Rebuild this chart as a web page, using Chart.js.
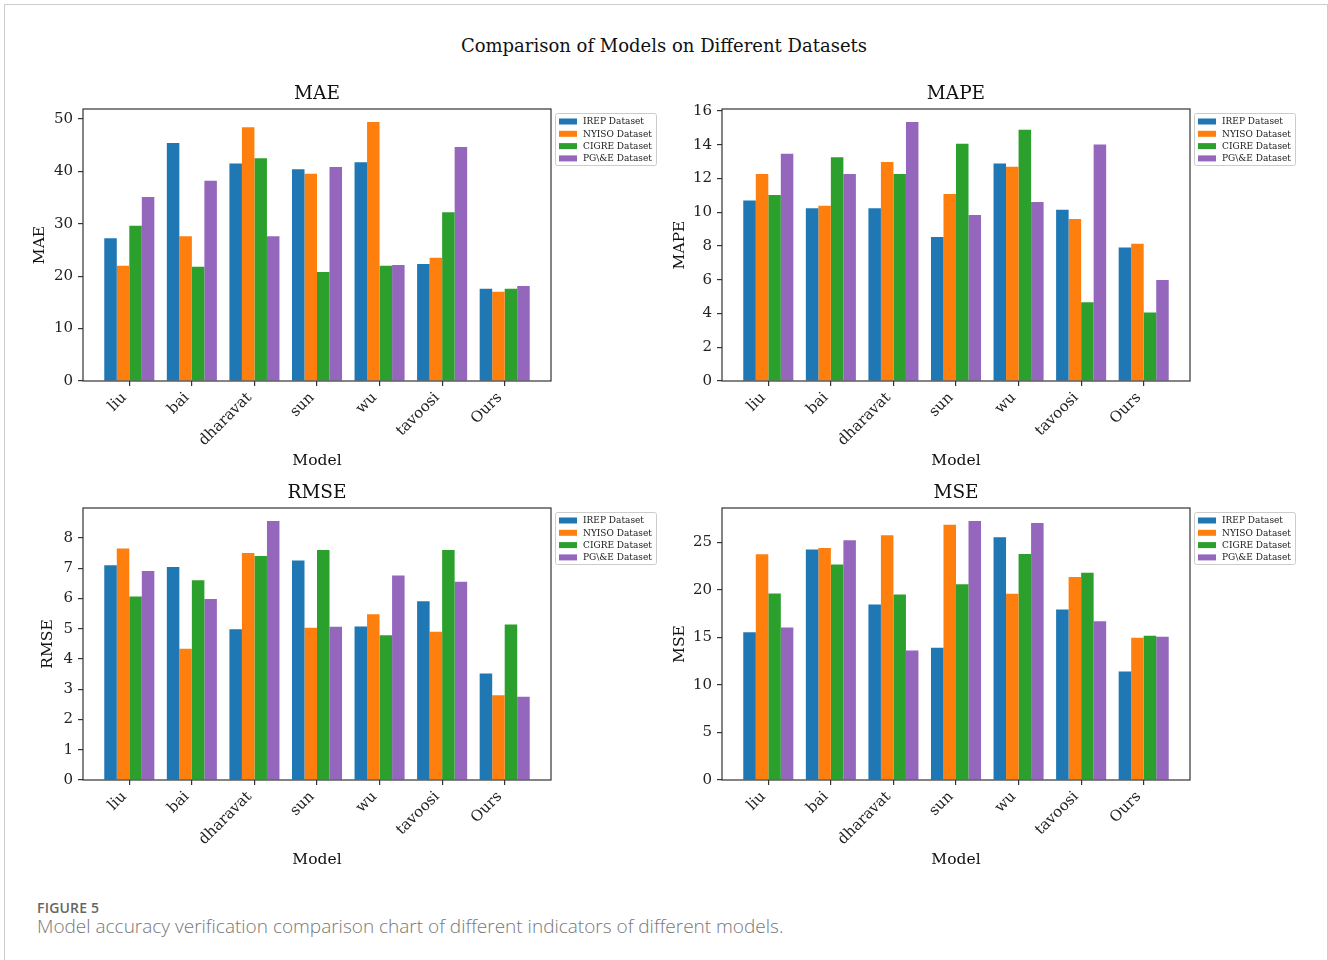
<!DOCTYPE html>
<html><head><meta charset="utf-8">
<script src="https://cdn.jsdelivr.net/npm/chart.js@4.4.1/dist/chart.umd.min.js"></script>
<style>
body{margin:0;background:#fff;width:1328px;height:960px;overflow:hidden;position:relative;}
#frame{position:absolute;left:4px;top:4px;width:1324px;height:980px;border:1px solid #cdcdcd;box-sizing:border-box;}
#sup{position:absolute;left:0;width:1328px;top:35px;text-align:center;font:18px 'DejaVu Serif';color:#111;}
canvas{position:absolute;}
#fig{position:absolute;left:37px;top:898px;font:600 14px 'Open Sans';color:#666;letter-spacing:0.2px;}
#cap{position:absolute;left:37px;top:913px;font:300 19px 'Open Sans';color:#777;}
</style></head>
<body>
<div id="frame"></div>
<div id="sup">Comparison of Models on Different Datasets</div>
<canvas id="c1" width="664" height="400" style="left:0;top:80px"></canvas>
<canvas id="c2" width="664" height="400" style="left:639px;top:80px"></canvas>
<canvas id="c3" width="664" height="400" style="left:0;top:479px"></canvas>
<canvas id="c4" width="664" height="400" style="left:639px;top:479px"></canvas>
<div id="fig">FIGURE 5</div>
<div id="cap">Model accuracy verification comparison chart of different indicators of different models.</div>
<script>
const models = ['liu','bai','dharavat','sun','wu','tavoosi','Ours'];
const datasetNames = ['IREP Dataset','NYISO Dataset','CIGRE Dataset','PG\\&E Dataset'];
const colors = ['#1f77b4','#ff7f0e','#2ca02c','#9467bd'];

const maeIREP  = [27.2, 45.4, 41.5, 40.4, 41.7, 22.3, 17.6];
const maeNYISO = [22.0, 27.6, 48.4, 39.5, 49.4, 23.5, 17.0];
const maeCIGRE = [29.6, 21.8, 42.5, 20.8, 22.0, 32.2, 17.6];
const maePGE   = [35.1, 38.2, 27.6, 40.8, 22.1, 44.6, 18.1];

const mapeIREP  = [10.7, 10.23, 10.23, 8.53, 12.89, 10.15, 7.91];
const mapeNYISO = [12.27, 10.39, 12.97, 11.08, 12.69, 9.6, 8.13];
const mapeCIGRE = [11.02, 13.26, 12.27, 14.06, 14.89, 4.66, 4.06];
const mapePGE   = [13.46, 12.27, 15.35, 9.83, 10.61, 14.02, 5.99];

const rmseIREP  = [7.1, 7.04, 4.98, 7.25, 5.07, 5.91, 3.52];
const rmseNYISO = [7.65, 4.34, 7.5, 5.03, 5.48, 4.9, 2.8];
const rmseCIGRE = [6.06, 6.6, 7.4, 7.6, 4.78, 7.6, 5.14];
const rmsePGE   = [6.91, 5.98, 8.56, 5.06, 6.76, 6.55, 2.75];

const mseIREP  = [15.55, 24.26, 18.47, 13.9, 25.53, 17.94, 11.41];
const mseNYISO = [23.74, 24.4, 25.74, 26.86, 19.59, 21.35, 14.96];
const mseCIGRE = [19.63, 22.68, 19.52, 20.58, 23.77, 21.8, 15.17];
const msePGE   = [16.05, 25.21, 13.62, 27.25, 27.04, 16.71, 15.06];

const maeTicks  = [0, 10, 20, 30, 40, 50];
const mapeTicks = [0, 2, 4, 6, 8, 10, 12, 14, 16];
const rmseTicks = [0, 1, 2, 3, 4, 5, 6, 7, 8];
const mseTicks  = [0, 5, 10, 15, 20, 25];

const SERIF = "'DejaVu Serif', serif";

const framePlugin = {
  id: 'frame',
  afterDatasetsDraw(chart) {
    const a = chart.chartArea, ctx = chart.ctx;
    ctx.save();
    ctx.strokeStyle = '#333';
    ctx.lineWidth = 1.2;
    ctx.strokeRect(a.left, a.top, a.right - a.left, a.bottom - a.top);
    ctx.restore();
  }
};

const axTitlePlugin = {
  id: 'axTitle',
  afterDraw(chart, args, opts) {
    const a = chart.chartArea, ctx = chart.ctx;
    ctx.save();
    ctx.font = "18.5px " + SERIF;
    ctx.fillStyle = '#111';
    ctx.textAlign = 'center';
    ctx.textBaseline = 'middle';
    ctx.fillText(opts.text, (a.left + a.right) / 2, a.top - 14.5);
    ctx.restore();
  }
};

const legendPlugin = {
  id: 'sideLegend',
  afterDraw(chart) {
    const a = chart.chartArea, ctx = chart.ctx;
    const x0 = a.right + 4, y0 = a.top + 4, w = 101, h = 52;
    ctx.save();
    ctx.fillStyle = 'rgba(255,255,255,0.8)';
    ctx.strokeStyle = '#cccccc';
    ctx.lineWidth = 1;
    ctx.beginPath();
    ctx.roundRect(x0 + 0.5, y0 + 0.5, w, h, 2);
    ctx.fill(); ctx.stroke();
    ctx.font = "9px " + SERIF;
    ctx.textBaseline = 'middle';
    ctx.textAlign = 'left';
    chart.data.datasets.forEach((ds, i) => {
      const cy = y0 + 8.5 + i * 12.3;
      ctx.fillStyle = ds.backgroundColor;
      ctx.fillRect(x0 + 4, cy - 3, 18, 6);
      ctx.fillStyle = '#1a1a1a';
      ctx.fillText(ds.label, x0 + 28, cy + 0.5);
    });
    ctx.restore();
  }
};

function makeChart(id, title, yLabel, series, yTicks, yTitlePad) {
  let all = [];
  series.forEach(s => all = all.concat(s));
  const yMax = Math.max(...all) * 1.05;
  const datasets = series.map((vals, k) => ({
    label: datasetNames[k],
    data: vals.map((v, i) => ({ x: i, y: v })),
    backgroundColor: colors[k],
    borderWidth: 0,
    categoryPercentage: 0.8,
    barPercentage: 1.0
  }));
  new Chart(document.getElementById(id), {
    type: 'bar',
    data: { datasets },
    options: {
      responsive: false,
      animation: false,
      events: [],
      layout: { padding: { left: 0, right: 113, top: 29, bottom: 4 } },
      plugins: {
        legend: { display: false },
        tooltip: { enabled: false },
        title: { display: false },
        axTitle: { text: title }
      },
      scales: {
        x: {
          type: 'linear',
          min: -0.74, max: 6.74,
          offset: false,
          border: { display: false },
          grid: { display: true, offset: false, drawOnChartArea: false, drawTicks: true, tickLength: 5, tickColor: '#333', lineWidth: 1.2 },
          afterBuildTicks: s => { s.ticks = models.map((m, i) => ({ value: i })); },
          afterFit: s => { s.height = 95; },
          ticks: {
            autoSkip: false, minRotation: 45, maxRotation: 45, padding: 3, labelOffset: -5,
            color: '#222', font: { family: SERIF, size: 15 },
            callback: v => models[v]
          },
          title: { display: true, text: 'Model', color: '#111', font: { family: SERIF, size: 15.5, lineHeight: 1.2 }, padding: { top: 0, bottom: 6 } }
        },
        y: {
          min: 0, max: yMax,
          border: { display: false },
          grid: { display: true, drawOnChartArea: false, drawTicks: true, tickLength: 5, tickColor: '#333', lineWidth: 1.2 },
          afterBuildTicks: s => { s.ticks = yTicks.map(v => ({ value: v })); },
          afterFit: s => { s.width = 83; },
          ticks: { padding: 5, color: '#222', font: { family: SERIF, size: 15 } },
          title: { display: true, text: yLabel, color: '#111', font: { family: SERIF, size: 15.5, lineHeight: 1.2 }, padding: { top: yTitlePad, bottom: 0 } }
        }
      }
    },
    plugins: [framePlugin, axTitlePlugin, legendPlugin]
  });
}

makeChart('c1', 'MAE', 'MAE', [maeIREP, maeNYISO, maeCIGRE, maePGE], maeTicks, 31);
makeChart('c2', 'MAPE', 'MAPE', [mapeIREP, mapeNYISO, mapeCIGRE, mapePGE], mapeTicks, 32);
makeChart('c3', 'RMSE', 'RMSE', [rmseIREP, rmseNYISO, rmseCIGRE, rmsePGE], rmseTicks, 39);
makeChart('c4', 'MSE', 'MSE', [mseIREP, mseNYISO, mseCIGRE, msePGE], mseTicks, 32);
</script>
</body></html>
